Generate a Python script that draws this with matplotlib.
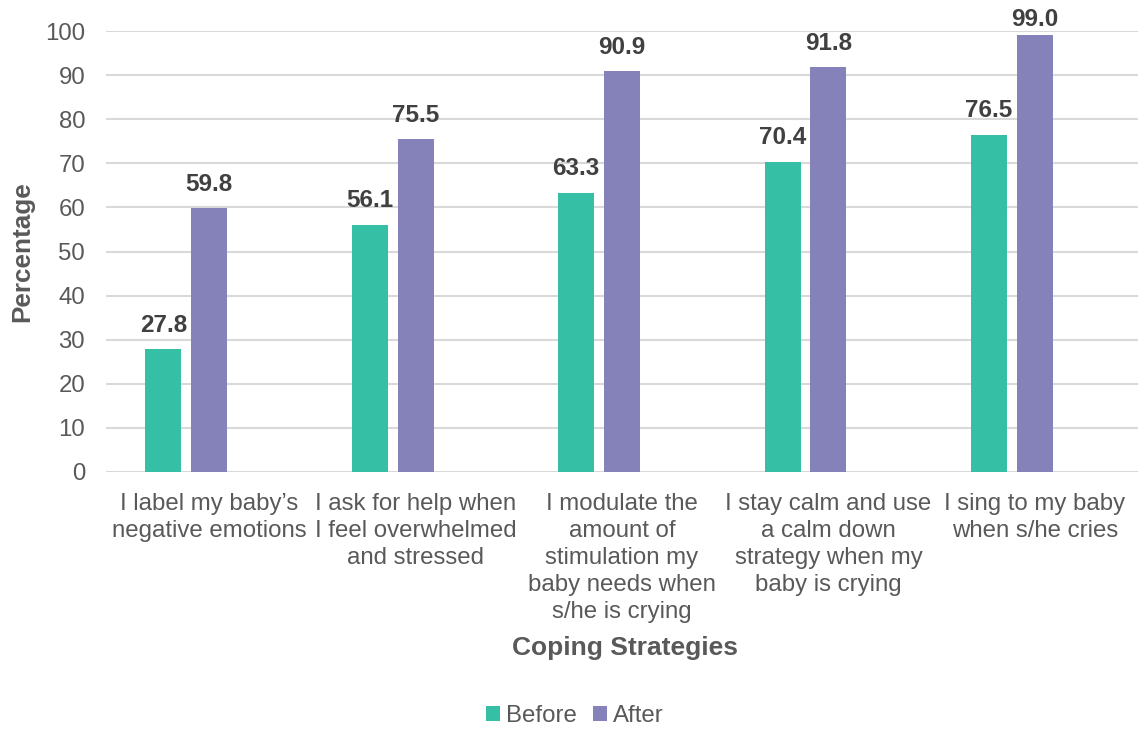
import matplotlib
matplotlib.use("Agg")
import matplotlib.pyplot as plt
import numpy as np

categories = [
    "I label my baby\u2019s\nnegative emotions",
    "I ask for help when\nI feel overwhelmed\nand stressed",
    "I modulate the\namount of\nstimulation my\nbaby needs when\ns/he is crying",
    "I stay calm and use\na calm down\nstrategy when my\nbaby is crying",
    "I sing to my baby\nwhen s/he cries",
]
before = [27.8, 56.1, 63.3, 70.4, 76.5]
after = [59.8, 75.5, 90.9, 91.8, 99.0]
yticks = [0, 10, 20, 30, 40, 50, 60, 70, 80, 90, 100]

plt.rcParams['font.family'] = ['Liberation Sans', 'DejaVu Sans']

fig = plt.figure(figsize=(11.39, 7.29), dpi=100)
ax = fig.add_axes([106/1139, 1 - 472/729, (1138-106)/1139, (472-31)/729])

x = np.arange(len(categories))
w = 0.174
c_before = "#35BFA5"
c_after = "#8581B9"
b1 = ax.bar(x - 0.222, before, width=w, color=c_before, zorder=3, label="Before")
b2 = ax.bar(x + 0.0, after, width=w, color=c_after, zorder=3, label="After")

for bars, vals in ((b1, before), (b2, after)):
    for r, v in zip(bars, vals):
        off = 9 if v < 97 else 3
        ax.annotate(f"{v:.1f}", (r.get_x() + r.get_width()/2, v), xytext=(0, off),
                    textcoords="offset points", ha="center", va="bottom",
                    fontsize=17.5, fontweight="bold", color="#404040")

ax.set_xlim(-0.5, len(categories) - 0.5)
ax.set_ylim(0, 100)
ax.set_yticks(yticks)
ax.set_xticks(x)
ax.set_xticklabels(categories, fontsize=17.3, color="#595959", linespacing=1.29)
ax.tick_params(axis='y', labelsize=17.3, colors="#595959", length=0, pad=15)
ax.tick_params(axis='x', length=0, pad=15)
ax.grid(axis='y', color="#D9D9D9", linewidth=1.5, zorder=0)
for s in ax.spines.values():
    s.set_visible(False)

fig.text(22/1139, 1 - 252/729, "Percentage", rotation=90, ha="center", va="center",
         fontsize=18.8, fontweight="bold", color="#595959")
fig.text(625/1139, 1 - 648/729, "Coping Strategies", ha="center", va="center",
         fontsize=19, fontweight="bold", color="#595959")

leg = fig.legend(handles=[b1, b2], labels=["Before", "After"], loc="center",
                 bbox_to_anchor=(575/1139, 1 - 716/729), ncol=2, frameon=False,
                 fontsize=17.3, handlelength=0.56, handleheight=0.56, handletextpad=0.25,
                 columnspacing=0.7)
for t in leg.get_texts():
    t.set_color("#595959")

fig.savefig("out.png", dpi=100)
